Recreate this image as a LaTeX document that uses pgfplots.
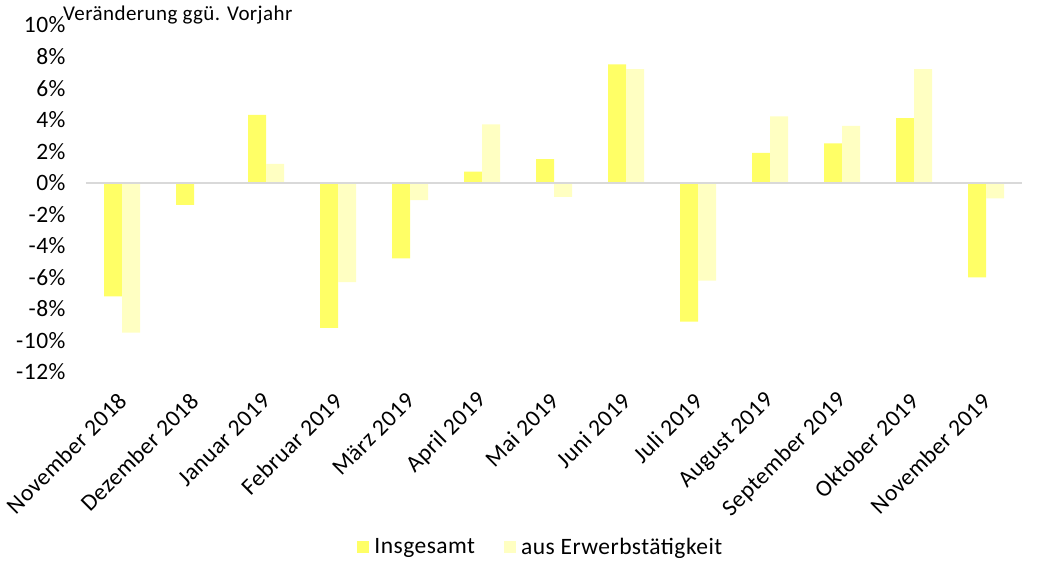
\documentclass[border=0pt]{standalone}
\usepackage{pgfplots}
\pgfplotsset{compat=1.18}
\usepackage{fontspec}
\setmainfont{Carlito}[LetterSpace=2]
\definecolor{ins}{HTML}{FFFF66}
\definecolor{erw}{HTML}{FFFFC2}
\definecolor{zl}{HTML}{D9D9D9}
\begin{document}
\begin{tikzpicture}[x=1pt,y=1pt]
\path[use as bounding box] (0,0) rectangle (1037,562);
\begin{axis}[
  at={(86pt,190pt)}, anchor=south west,
  scale only axis, width=936pt, height=347pt,
  ymin=-12, ymax=10, xmin=-0.5, xmax=12.5,
  ybar=0pt, bar width=18pt,
  axis line style={draw=none}, major tick length=0pt,
  ytick={-12,-10,...,10},
  yticklabels={-12\%,-10\%,-8\%,-6\%,-4\%,-2\%,0\%,2\%,4\%,6\%,8\%,10\%},
  xtick={0,...,12},
  xticklabels={November 2018,Dezember 2018,Januar 2019,Februar 2019,März 2019,April 2019,Mai 2019,Juni 2019,Juli 2019,August 2019,September 2019,Oktober 2019,November 2019},
  ticklabel style={font=\fontsize{23.5}{27}\selectfont},
  yticklabel style={xshift=-17pt},
  xticklabel style={rotate=45, anchor=east, xshift=-14pt, yshift=-18pt},
  legend columns=2,
  legend style={draw=none, fill=none, at={(0.486,-0.504)}, anchor=center,
    font=\fontsize{23.5}{27}\selectfont,
    /tikz/every odd column/.append style={column sep=3pt},
    /tikz/every even column/.append style={column sep=27pt}},
  legend image code/.code={\fill[#1] (0pt,-6pt) rectangle (12pt,6pt);},
]
\addplot[fill=ins, draw=none] coordinates {
(0,-7.2) (1,-1.4) (2,4.3) (3,-9.2) (4,-4.8) (5,0.7) (6,1.5) (7,7.5) (8,-8.8) (9,1.9) (10,2.5) (11,4.1) (12,-6.0)};
\addlegendentry{Insgesamt}
\addplot[fill=erw, draw=none] coordinates {
(0,-9.5) (1,0) (2,1.2) (3,-6.3) (4,-1.1) (5,3.7) (6,-0.9) (7,7.2) (8,-6.2) (9,4.2) (10,3.6) (11,7.2) (12,-1.0)};
\addlegendentry{aus Erwerbstätigkeit}
\draw[zl, line width=1.8pt] (axis cs:-0.5,0) -- (axis cs:12.5,0);
\end{axis}
\node[anchor=north west, inner sep=0pt, font=\fontsize{21}{24}\selectfont] at (63,556) {Veränderung ggü. Vorjahr};
\end{tikzpicture}
\end{document}
